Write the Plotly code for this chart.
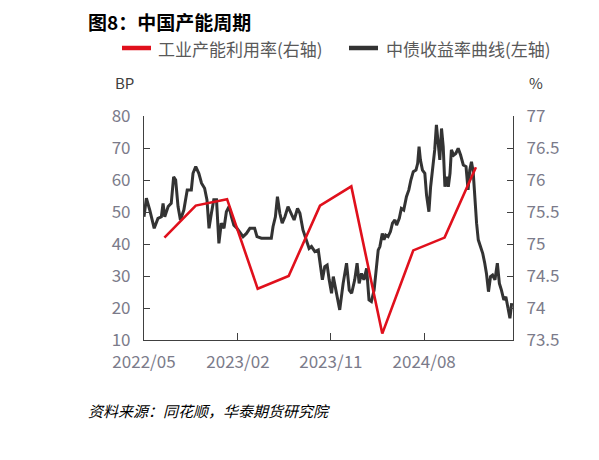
import plotly.graph_objects as go

# ---- data ----
util_dates = ["2022-06-30", "2022-09-30", "2022-12-31", "2023-03-31", "2023-06-30",
              "2023-09-30", "2023-12-31", "2024-03-31", "2024-06-30", "2024-09-30",
              "2024-12-31"]
util_values = [75.1, 75.6, 75.7, 74.3, 74.5, 75.6, 75.9, 73.6, 74.9, 75.1, 76.2]

bond_dates = [
    "2022-05-01", "2022-05-08", "2022-05-18", "2022-05-31", "2022-06-11", "2022-06-21",
    "2022-06-26", "2022-07-01", "2022-07-11", "2022-07-20", "2022-07-27", "2022-08-02",
    "2022-08-09", "2022-08-16", "2022-08-26", "2022-09-05", "2022-09-17", "2022-09-22",
    "2022-09-30", "2022-10-09", "2022-10-17", "2022-10-26", "2022-11-02", "2022-11-08",
    "2022-11-15", "2022-11-22", "2022-11-30", "2022-12-07", "2022-12-14", "2022-12-22",
    "2022-12-29", "2023-01-06", "2023-01-13", "2023-01-20", "2023-01-29", "2023-02-06",
    "2023-02-16", "2023-02-26", "2023-03-08", "2023-03-22", "2023-03-29", "2023-04-11",
    "2023-04-26", "2023-05-10", "2023-05-15", "2023-05-22", "2023-05-28", "2023-06-04",
    "2023-06-11", "2023-06-19", "2023-06-28", "2023-07-08", "2023-07-16", "2023-07-26",
    "2023-08-02", "2023-08-11", "2023-08-21", "2023-08-29", "2023-09-05", "2023-09-15",
    "2023-09-25", "2023-10-01", "2023-10-07", "2023-10-14", "2023-10-21", "2023-10-27",
    "2023-11-03", "2023-11-08", "2023-11-14", "2023-11-19", "2023-11-27", "2023-12-07",
    "2023-12-17", "2023-12-25", "2024-01-01", "2024-01-10", "2024-01-17", "2024-01-23",
    "2024-01-30", "2024-02-06", "2024-02-14", "2024-02-21", "2024-02-28", "2024-03-07",
    "2024-03-14", "2024-03-19", "2024-03-24", "2024-03-31", "2024-04-05", "2024-04-10",
    "2024-04-17", "2024-04-24", "2024-04-30", "2024-05-07", "2024-05-12", "2024-05-20",
    "2024-05-26", "2024-06-02", "2024-06-10", "2024-06-17", "2024-06-23", "2024-06-30",
    "2024-07-08", "2024-07-13", "2024-07-17", "2024-07-21", "2024-07-27", "2024-08-03",
    "2024-08-08", "2024-08-15", "2024-08-20", "2024-08-28", "2024-09-01", "2024-09-06",
    "2024-09-11", "2024-09-16", "2024-09-21", "2024-09-26", "2024-10-01", "2024-10-06",
    "2024-10-11", "2024-10-16", "2024-10-20", "2024-10-27", "2024-11-02", "2024-11-09",
    "2024-11-16", "2024-11-24", "2024-12-02", "2024-12-08", "2024-12-13", "2024-12-18",
    "2024-12-23", "2024-12-28", "2025-01-02", "2025-01-07", "2025-01-14", "2025-01-20",
    "2025-01-26", "2025-01-31", "2025-02-06", "2025-02-12", "2025-02-18", "2025-02-25",
    "2025-03-04", "2025-03-10", "2025-03-16", "2025-03-23", "2025-03-29", "2025-04-05",
    "2025-04-10", "2025-04-15"]
bond_values = [
    48.5, 54.3, 50.6, 44.9, 48.0, 48.5,
    52.7, 48.5, 51.7, 52.7, 61.0, 60.0,
    51.7, 47.5, 50.6, 56.9, 56.9, 62.1,
    64.2, 62.1, 59.0, 57.4, 53.8, 44.9,
    49.6, 53.8, 53.8, 40.2, 46.5, 44.9,
    50.1, 51.7, 48.5, 45.9, 44.9, 43.9,
    42.3, 43.3, 44.9, 44.9, 42.3, 41.8,
    41.8, 41.8, 45.4, 48.5, 54.8, 49.6,
    46.5, 48.5, 51.7, 49.6, 47.5, 51.1,
    49.6, 44.4, 41.3, 38.6, 39.2, 37.6,
    38.1, 34.0, 28.8, 32.9, 33.4, 28.8,
    24.6, 29.8, 26.7, 23.5, 19.4, 27.7,
    34.0, 25.6, 24.6, 28.8, 34.0, 27.7,
    30.8, 28.8, 32.4, 22.5, 22.0, 25.6,
    34.5, 38.1, 39.2, 43.3, 41.3, 42.8,
    42.3, 43.9, 46.5, 47.5, 45.9, 48.0,
    51.1, 50.6, 54.8, 56.9, 60.0, 62.6,
    63.1, 65.2, 70.4, 66.3, 63.1, 62.1,
    55.3, 50.1, 57.9, 65.2, 69.4, 77.2,
    72.5, 66.3, 76.1, 70.4, 57.9, 61.0,
    57.9, 62.1, 69.4, 67.8, 68.3, 69.9,
    67.8, 64.7, 64.2, 56.9, 63.1, 65.7,
    62.6, 53.8, 46.5, 41.3, 39.2, 37.1,
    34.0, 30.8, 25.1, 29.8, 30.3, 28.8,
    34.0, 27.7, 25.6, 22.5, 23.5, 19.4,
    16.8, 21.5]

x_tick_vals = ["2022-05-01", "2023-02-01", "2023-11-01", "2024-08-01"]
x_tick_text = ["2022/05", "2023/02", "2023/11", "2024/08"]

util_name = "工业产能利用率(右轴)"
bond_name = "中债收益率曲线(左轴)"

FONT = "Noto Sans CJK SC"
TICK_COLOR = "#7b7b8a"
AXIS_COLOR = "#404040"
RED = "#e0101c"
DARK = "#333333"

# the page adds an 8px body margin; lay out in window pixels and shift
OFF = 8
W, H = 599 - OFF, 460 - OFF
pl, pr, pt, pb = 144 - OFF, 513 - OFF, 116 - OFF, 340 - OFF  # plot area in figure px


def px2paper(x, y):
    # x, y given in window pixels
    x -= OFF
    y -= OFF
    return (x - pl) / (pr - pl), (pb - y) / (pb - pt)


fig = go.Figure()
fig.add_trace(go.Scatter(x=util_dates, y=util_values, name=util_name, yaxis="y2",
                         mode="lines", line=dict(color=RED, width=2.6)))
fig.add_trace(go.Scatter(x=bond_dates, y=bond_values, name=bond_name, yaxis="y",
                         mode="lines", line=dict(color=DARK, width=3)))

fig.update_layout(
    width=W, height=H,
    margin=dict(l=pl, r=W - pr, t=pt, b=H - pb, autoexpand=False),
    paper_bgcolor="white", plot_bgcolor="white",
    font=dict(family=FONT, color=TICK_COLOR),
    showlegend=False,
    xaxis=dict(type="date", range=["2022-05-01", "2025-04-19"],
               tickvals=x_tick_vals, ticktext=x_tick_text, automargin=False,
               ticks="inside", ticklen=7, tickcolor=AXIS_COLOR, tickwidth=1.2,
               showline=True, linecolor=AXIS_COLOR, linewidth=1.2,
               showgrid=False, zeroline=False, ticklabelstandoff=6,
               tickfont=dict(size=17, color=TICK_COLOR, family=FONT)),
    yaxis=dict(range=[10, 80], dtick=10, tick0=10, automargin=False,
               ticks="inside", ticklen=6, tickcolor=AXIS_COLOR, tickwidth=1.2,
               showline=True, linecolor=AXIS_COLOR, linewidth=1.2,
               showgrid=False, zeroline=False, ticklabelstandoff=9,
               tickfont=dict(size=17, color=TICK_COLOR, family=FONT)),
    yaxis2=dict(range=[73.5, 77], dtick=0.5, tick0=73.5, overlaying="y", side="right",
                automargin=False,
                ticks="inside", ticklen=6, tickcolor=AXIS_COLOR, tickwidth=1.2,
                showline=True, linecolor=AXIS_COLOR, linewidth=1.2,
                showgrid=False, zeroline=False, ticklabelstandoff=9,
                tickfont=dict(size=17, color=TICK_COLOR, family=FONT)),
)


def ann(text, x, y, size, color, anchor="left"):
    ax, ay = px2paper(x, y)
    return dict(text=text, x=ax, y=ay, xref="paper", yref="paper", showarrow=False,
                xanchor=anchor, yanchor="middle",
                font=dict(size=size, color=color, family=FONT))


annotations = [
    ann("<b>图8：中国产能周期</b>", 86, 22, 19, "#000000"),
    ann("<b>图</b>", 594, 22, 19, "#000000"),
    ann(util_name, 156, 48, 17, "#595959"),
    ann(bond_name, 384, 48, 17, "#595959"),
    ann("BP", 124, 82, 15, "#404040", "center"),
    ann("%", 536, 82, 15, "#404040", "center"),
    ann("<i>资料来源：同花顺，华泰期货研究院</i>", 86, 410, 15, "#000000"),
    ann("<i>资</i>", 594, 412, 15, "#000000"),
]

shapes = []
for (x0, x1, col) in [(122, 151, RED), (349, 378, DARK)]:
    a0, b0 = px2paper(x0, 48)
    a1, _ = px2paper(x1, 48)
    shapes.append(dict(type="line", xref="paper", yref="paper", x0=a0, x1=a1, y0=b0, y1=b0,
                       line=dict(color=col, width=4.5)))

fig.update_layout(annotations=annotations, shapes=shapes)

fig.write_html("out.html")
